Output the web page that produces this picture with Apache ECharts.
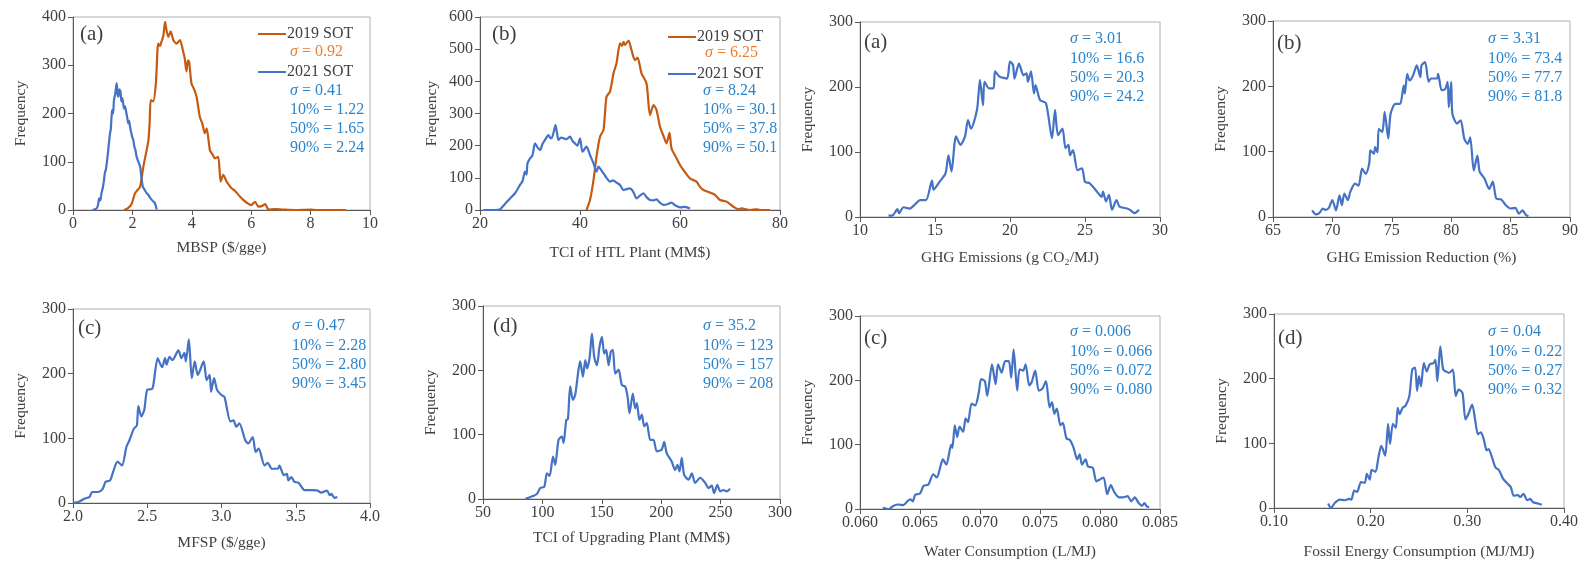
<!DOCTYPE html>
<html><head><meta charset="utf-8">
<script src="https://cdn.jsdelivr.net/npm/echarts@6/dist/echarts.min.js"></script>
<style>html,body{margin:0;padding:0;background:#fff}#c{width:1581px;height:561px}</style>
</head><body><div id="c"></div>
<script>
// ---------- DATA ----------
const mbsp2019 = [[1.72,0],[1.85,4],[1.97,12],[2.09,35],[2.18,42],[2.26,48],[2.37,90],[2.45,115],[2.54,145],[2.58,180],[2.62,228],[2.7,225],[2.79,262],[2.87,345],[2.93,340],[2.98,349],[3.04,360],[3.1,390],[3.15,372],[3.21,359],[3.29,370],[3.38,352],[3.49,345],[3.6,352],[3.71,328],[3.76,315],[3.82,287],[3.87,310],[3.91,307],[3.99,262],[4.08,250],[4.16,235],[4.27,193],[4.35,180],[4.44,159],[4.5,169],[4.61,124],[4.7,115],[4.78,107],[4.89,110],[4.97,59],[5.06,73],[5.17,59],[5.25,52],[5.34,45],[5.45,40],[5.62,28],[5.75,20],[5.85,15],[6.0,10],[6.13,17],[6.24,7],[6.35,8],[6.47,12],[6.58,1],[6.8,2],[7.08,1],[7.5,0],[8.0,1],[8.2,0],[8.6,0],[9.2,0]];
const mbsp2021 = [[0.66,0],[0.79,3],[0.84,10],[0.88,24],[0.92,20],[0.96,35],[1.0,45],[1.04,60],[1.07,76],[1.11,85],[1.15,104],[1.18,120],[1.22,145],[1.25,160],[1.27,166],[1.3,195],[1.32,207],[1.35,200],[1.38,228],[1.42,240],[1.47,263],[1.5,240],[1.53,235],[1.56,250],[1.6,245],[1.63,225],[1.66,232],[1.69,221],[1.72,210],[1.75,215],[1.8,200],[1.83,190],[1.86,180],[1.89,185],[1.92,173],[1.96,160],[2.0,150],[2.03,145],[2.07,130],[2.1,125],[2.14,111],[2.2,100],[2.26,90],[2.3,70],[2.35,48],[2.41,42],[2.48,35],[2.55,30],[2.6,25],[2.65,21],[2.7,18],[2.76,14],[2.82,1]];
const htl2019 = [[41.3,0],[42,31],[42.7,93],[43.3,166],[44,228],[44.7,249],[45.3,352],[46,368],[46.7,425],[47.3,456],[48,518],[48.4,510],[48.7,523],[49,513],[49.7,527],[50.3,497],[51,466],[51.5,474],[52.3,425],[53.3,394],[54,295],[54.7,326],[55.3,311],[56,259],[56.7,230],[57.3,207],[57.9,240],[58.3,192],[59.3,161],[60,140],[60.7,124],[62,98],[63.3,88],[64,72],[64.7,62],[66,54],[67,47],[68,31],[69.3,26],[70.7,10],[71.7,2],[72.3,5],[74,0],[75.3,2],[76,0],[78,0]];
const htl2021 = [[20.7,0],[23,0],[24,2],[25,19],[26,36],[27,52],[28,78],[28.5,90],[29,119],[29.3,110],[29.5,145],[30,160],[30.5,170],[31,207],[31.5,195],[32,186],[32.5,205],[33,218],[33.7,233],[34,225],[34.3,223],[34.7,240],[35.1,264],[35.4,240],[35.7,218],[36.2,225],[36.7,223],[37.3,220],[38,228],[38.5,215],[39,207],[39.5,200],[40,223],[40.5,181],[41.3,197],[42,171],[42.7,145],[43.3,119],[43.7,135],[44.2,125],[44.7,114],[45.3,100],[46,88],[46.6,92],[47.3,85],[48,78],[48.7,62],[49.3,65],[50,67],[50.7,55],[51.3,36],[52,45],[52.7,52],[53.3,40],[54,31],[54.7,30],[55.3,33],[56,22],[56.7,16],[57.5,18],[58.3,23],[59,15],[60,8],[61,10],[62,5]];
const ghg = [[11.9,2],[12.2,3],[12.5,12],[12.6,6],[12.9,15],[13.3,13],[13.7,20],[14.0,26],[14.4,26],[14.8,56],[14.9,42],[15.3,54],[15.7,67],[15.9,95],[16.1,70],[16.4,124],[16.7,111],[17.0,124],[17.2,149],[17.4,136],[17.8,165],[18.0,211],[18.2,172],[18.3,208],[18.6,198],[18.9,198],[19.0,224],[19.3,216],[19.8,213],[20.0,239],[20.2,234],[20.3,213],[20.6,236],[20.9,218],[21.1,221],[21.2,208],[21.4,224],[21.6,190],[21.7,203],[22.0,180],[22.4,175],[22.8,121],[23.0,165],[23.2,126],[23.5,136],[23.7,106],[23.9,111],[24.0,95],[24.2,103],[24.5,72],[24.8,75],[25.0,54],[25.3,52],[25.8,39],[26.1,31],[26.2,39],[26.4,24],[26.6,34],[26.8,11],[27.1,26],[27.3,16],[27.8,13],[28.0,11],[28.3,6],[28.6,11]];
const ghgRed = [[68.3,10],[68.6,4],[68.9,6],[69.2,13],[69.4,11],[69.7,14],[70.0,26],[70.3,10],[70.6,33],[70.8,18],[71.0,36],[71.3,26],[71.5,38],[71.9,51],[72.2,48],[72.5,74],[72.8,66],[73.1,82],[73.2,102],[73.5,97],[73.6,107],[73.8,99],[73.9,135],[74.2,130],[74.4,161],[74.7,120],[74.9,158],[75.3,173],[75.7,173],[76.0,201],[76.1,189],[76.3,219],[76.5,209],[76.8,217],[77.1,232],[77.4,214],[77.5,232],[77.8,237],[78.1,207],[78.3,212],[78.8,212],[78.9,219],[79.2,194],[79.5,196],[79.7,207],[79.8,168],[80.0,207],[80.1,158],[80.5,143],[80.8,148],[81.1,120],[81.4,112],[81.6,122],[81.9,71],[82.2,94],[82.4,69],[82.8,59],[83.2,43],[83.5,54],[83.8,28],[84.2,27],[84.6,18],[85.0,13],[85.4,14],[85.7,5],[86.0,10],[86.3,3],[86.5,1]];
const mfsp = [[2.0,0],[2.04,2],[2.08,7],[2.11,9],[2.13,17],[2.17,17],[2.2,22],[2.22,33],[2.25,35],[2.27,48],[2.3,64],[2.33,58],[2.36,87],[2.38,97],[2.41,115],[2.43,120],[2.44,150],[2.46,134],[2.48,144],[2.5,175],[2.53,176],[2.54,181],[2.57,224],[2.58,219],[2.6,210],[2.62,224],[2.63,214],[2.65,226],[2.67,221],[2.71,236],[2.73,224],[2.75,232],[2.76,219],[2.78,253],[2.8,193],[2.82,219],[2.84,198],[2.88,219],[2.9,190],[2.92,198],[2.93,172],[2.95,193],[2.97,175],[3.0,167],[3.02,164],[3.06,126],[3.08,128],[3.1,118],[3.12,123],[3.16,97],[3.18,92],[3.21,102],[3.23,79],[3.25,84],[3.29,58],[3.31,62],[3.34,53],[3.38,53],[3.39,58],[3.42,43],[3.44,45],[3.45,35],[3.47,40],[3.49,33],[3.52,31],[3.56,20],[3.62,20],[3.65,19],[3.67,16],[3.71,19],[3.73,12],[3.74,14],[3.76,8],[3.78,9]];
const upgrading = [[85.6,0],[88.4,2],[92.6,5],[95.4,8],[98.2,17],[101.6,19],[103.8,40],[106.1,36],[108.9,66],[110.8,53],[113.6,92],[116.4,97],[117.8,87],[120.1,123],[121.5,124],[123.4,175],[125.7,154],[127.6,162],[130.4,201],[131.8,214],[134.1,190],[136.1,216],[137.5,203],[139.7,219],[141.7,257],[143.6,221],[145.9,208],[148.1,237],[150.1,252],[152.0,226],[153.7,232],[155.7,208],[157.6,229],[159.3,232],[161.3,195],[164.1,201],[166.9,177],[169.7,175],[171.7,159],[173.3,133],[176.1,164],[178.1,141],[179.5,149],[181.7,123],[183.7,131],[185.7,113],[187.9,118],[190.7,92],[193.5,92],[196.3,74],[200.5,77],[202.5,89],[204.7,71],[208.9,58],[211.7,45],[213.7,53],[215.4,43],[217.3,64],[219.3,38],[223.0,30],[225.8,40],[228.6,25],[232.8,33],[237.0,25],[239.8,17],[242.6,21],[244.5,9],[247.3,22],[249.6,12],[252.4,14],[255.2,12],[258.0,16]];
const water = [[0.0619,2],[0.0624,0],[0.0628,5],[0.0632,7],[0.0636,6],[0.0640,13],[0.0642,15],[0.0644,12],[0.0646,22],[0.0650,24],[0.0653,36],[0.0657,38],[0.0661,54],[0.0664,49],[0.0667,66],[0.0669,77],[0.0672,69],[0.0676,100],[0.0677,95],[0.0679,130],[0.0681,112],[0.0683,128],[0.0686,120],[0.0688,141],[0.0690,135],[0.0693,164],[0.0696,161],[0.0699,181],[0.0701,202],[0.0704,199],[0.0706,176],[0.0710,225],[0.0713,194],[0.0715,225],[0.0718,212],[0.0721,230],[0.0724,230],[0.0726,204],[0.0728,248],[0.0731,184],[0.0733,217],[0.0736,215],[0.0738,225],[0.0741,192],[0.0743,197],[0.0746,215],[0.0749,184],[0.0752,187],[0.0755,199],[0.0758,158],[0.0760,166],[0.0762,148],[0.0764,156],[0.0767,130],[0.0769,134],[0.0772,110],[0.0775,107],[0.0778,95],[0.0781,77],[0.0783,85],[0.0785,69],[0.0788,77],[0.0790,66],[0.0794,64],[0.0797,43],[0.0800,46],[0.0803,49],[0.0806,23],[0.0809,37],[0.0812,26],[0.0816,18],[0.0819,18],[0.0823,20],[0.0826,12],[0.0829,18],[0.0832,10],[0.0835,5],[0.0837,9],[0.0839,4],[0.0841,3]];
const fossil = [[0.156,7],[0.159,0],[0.163,8],[0.168,13],[0.173,12],[0.178,14],[0.180,13],[0.183,27],[0.186,25],[0.190,40],[0.194,39],[0.196,53],[0.199,44],[0.201,59],[0.205,56],[0.208,78],[0.211,96],[0.215,81],[0.218,130],[0.220,99],[0.223,130],[0.226,124],[0.228,155],[0.230,145],[0.233,155],[0.236,158],[0.240,173],[0.243,214],[0.246,217],[0.248,181],[0.250,204],[0.252,188],[0.255,224],[0.258,211],[0.261,222],[0.265,224],[0.267,229],[0.269,196],[0.272,250],[0.275,214],[0.278,211],[0.281,209],[0.285,214],[0.288,173],[0.291,183],[0.295,178],[0.298,137],[0.301,145],[0.305,160],[0.308,137],[0.311,114],[0.314,117],[0.317,106],[0.320,89],[0.322,91],[0.326,76],[0.329,63],[0.333,58],[0.337,45],[0.342,37],[0.345,32],[0.348,19],[0.352,20],[0.355,17],[0.358,22],[0.362,12],[0.365,14],[0.368,9],[0.373,7],[0.377,5]];

const panelLabels = ['(a)','(b)','(a)','(b)','(c)','(d)','(c)','(d)'];
const xNames = ['MBSP ($/gge)','TCI of HTL Plant (MM$)','GHG Emissions (g CO\u2082/MJ)','GHG Emission Reduction (%)','MFSP ($/gge)','TCI of Upgrading Plant (MM$)','Water Consumption (L/MJ)','Fossil Energy Consumption (MJ/MJ)'];
const statsA = [['σ','0.41'],['10%','1.22'],['50%','1.65'],['90%','2.24']];
const statsB = [['σ','8.24'],['10%','30.1'],['50%','37.8'],['90%','50.1']];
const sigma2019 = ['0.92','6.25'];
const statsC = [['σ','3.01'],['10%','16.6'],['50%','20.3'],['90%','24.2']];
const statsD = [['σ','3.31'],['10%','73.4'],['50%','77.7'],['90%','81.8']];
const statsE = [['σ','0.47'],['10%','2.28'],['50%','2.80'],['90%','3.45']];
const statsF = [['σ','35.2'],['10%','123'],['50%','157'],['90%','208']];
const statsG = [['σ','0.006'],['10%','0.066'],['50%','0.072'],['90%','0.080']];
const statsH = [['σ','0.04'],['10%','0.22'],['50%','0.27'],['90%','0.32']];

// ---------- LAYOUT / STYLE ----------
const FONT = 'Liberation Serif';
const BLUE = '#4472C4', ORANGE = '#C55A11', TBLUE = '#2A84CC', TORANGE = '#ED7D31', TXT = '#404040';
const panels = [
  {g:[73,17,297,193], x:[0,10,2,0], y:[0,400,100], nameGap:[30,44], series:[{n:'2019 SOT',d:mbsp2019,c:ORANGE},{n:'2021 SOT',d:mbsp2021,c:BLUE}], lab:[80,24]},
  {g:[480,17,300,193], x:[20,80,20,0], y:[0,600,100], nameGap:[35,40], series:[{n:'2019 SOT',d:htl2019,c:ORANGE},{n:'2021 SOT',d:htl2021,c:BLUE}], lab:[492,24]},
  {g:[860,22,300,195], x:[10,30,5,0], y:[0,300,100], nameGap:[33,44], series:[{n:'GHG',d:ghg,c:BLUE}], lab:[864,32], stats:statsC, st:[1070,40]},
  {g:[1273,21,300,196], x:[65,90,5,0], y:[0,300,100], nameGap:[33,44], series:[{n:'Red',d:ghgRed,c:BLUE}], lab:[1277,33], stats:statsD, st:[1488,40]},
  {g:[73,309,297,194], x:[2,4,0.5,1], y:[0,300,100], nameGap:[32,44], series:[{n:'MFSP',d:mfsp,c:BLUE}], lab:[78,318], stats:statsE, st:[292,327]},
  {g:[483,306,297,193], x:[50,300,50,0], y:[0,300,100], nameGap:[31,44], series:[{n:'Upg',d:upgrading,c:BLUE}], lab:[493,316], stats:statsF, st:[703,327]},
  {g:[860,316,300,196], x:[0.06,0.085,0.005,3], y:[0,300,100], nameGap:[35,44], series:[{n:'Water',d:water,c:BLUE}], lab:[864,328], stats:statsG, st:[1070,333]},
  {g:[1274,314,299,195], x:[0.1,0.4,0.1,2], y:[0,300,100], nameGap:[36,44], series:[{n:'Fossil',d:fossil,c:BLUE}], lab:[1278,328], stats:statsH, st:[1488,333]}
];

const grid=[], xAxis=[], yAxis=[], series=[], graphic=[];
panels.forEach((p,i)=>{
  grid.push({left:p.g[0],top:p.g[1],width:p.g[2],height:p.g[3],show:true,borderColor:'#b0b0b0',borderWidth:1,backgroundColor:'transparent'});
  xAxis.push({gridIndex:i,type:'value',min:p.x[0],max:p.x[1],interval:p.x[2],
    name:xNames[i],nameLocation:'middle',nameGap:p.nameGap[0],
    nameTextStyle:{fontFamily:FONT,fontSize:15.5,color:TXT},
    axisLine:{onZero:false,lineStyle:{color:'#595959',width:1}},
    axisTick:{show:true,length:5,lineStyle:{color:'#595959'}},
    axisLabel:{fontFamily:FONT,fontSize:16,color:TXT,margin:6,formatter:v=>v.toFixed(p.x[3])},
    splitLine:{show:false}});
  yAxis.push({gridIndex:i,type:'value',min:p.y[0],max:p.y[1],interval:p.y[2],
    name:'Frequency',nameLocation:'middle',nameGap:p.nameGap[1],
    nameTextStyle:{fontFamily:FONT,fontSize:15.5,color:TXT},
    axisLine:{show:true,lineStyle:{color:'#595959',width:1}},
    axisTick:{show:true,length:5,lineStyle:{color:'#595959'}},
    axisLabel:{fontFamily:FONT,fontSize:16,color:TXT,margin:7},
    splitLine:{show:false}});
  p.series.forEach(s=>{
    series.push({type:'line',name:s.n,xAxisIndex:i,yAxisIndex:i,data:s.d,symbol:'none',smooth:0.25,
      lineStyle:{color:s.c,width:2.2},itemStyle:{color:s.c},silent:true,animation:false});
  });
  graphic.push({type:'text',left:p.lab[0],top:p.lab[1],style:{text:panelLabels[i],font:'21px "'+FONT+'"',fill:TXT}});
  if(p.stats){
    p.stats.forEach((r,k)=>{
      graphic.push({type:'text',left:p.st[0],top:p.st[1]+k*19.3-9,style:{
        text:(r[0]==='σ'?'{i|σ}':r[0])+' = '+r[1],
        font:'16px "'+FONT+'"',fill:TBLUE,
        rich:{i:{fontFamily:FONT,fontSize:16,fontStyle:'italic',fill:TBLUE,color:TBLUE}}}});
    });
  }
});

// legends + stats for the two comparison panels
const legPos = [[258,27,288,44,290,83],[668,30,700,45,702,83]];
const blueStats=[statsA,statsB];
[0,1].forEach(j=>{
  const L=legPos[j];
  graphic.push({type:'text',left:L[4]+(j?3:0),top:L[3],style:{text:'{i|σ} = '+sigma2019[j],font:'16px "'+FONT+'"',fill:TORANGE,
    rich:{i:{fontFamily:FONT,fontSize:16,fontStyle:'italic',fill:TORANGE,color:TORANGE}}}});
  blueStats[j].forEach((r,k)=>{
    graphic.push({type:'text',left:L[4]+(j?1:0),top:L[5]+k*18.8,style:{
      text:(r[0]==='σ'?'{i|σ}':r[0])+' = '+r[1],font:'16px "'+FONT+'"',fill:TBLUE,
      rich:{i:{fontFamily:FONT,fontSize:16,fontStyle:'italic',fill:TBLUE,color:TBLUE}}}});
  });
});
const legends = [
  {left:258,top:26,data:['2019 SOT']},{left:258,top:64,data:['2021 SOT']},
  {left:668,top:29,data:['2019 SOT']},{left:668,top:66,data:['2021 SOT']}
].map(l=>Object.assign({selectedMode:false,orient:'horizontal',itemWidth:28,itemHeight:16,itemGap:0,padding:0,
  textStyle:{fontFamily:FONT,fontSize:16,color:TXT,padding:[0,0,0,-4]},icon:'path://M0,7 L28,7 L28,9 L0,9 Z'},l));

const chart = echarts.init(document.getElementById('c'),null,{renderer:'canvas'});
chart.setOption({animation:false,backgroundColor:'#fff',grid,xAxis,yAxis,series,graphic,legend:legends});
</script></body></html>
